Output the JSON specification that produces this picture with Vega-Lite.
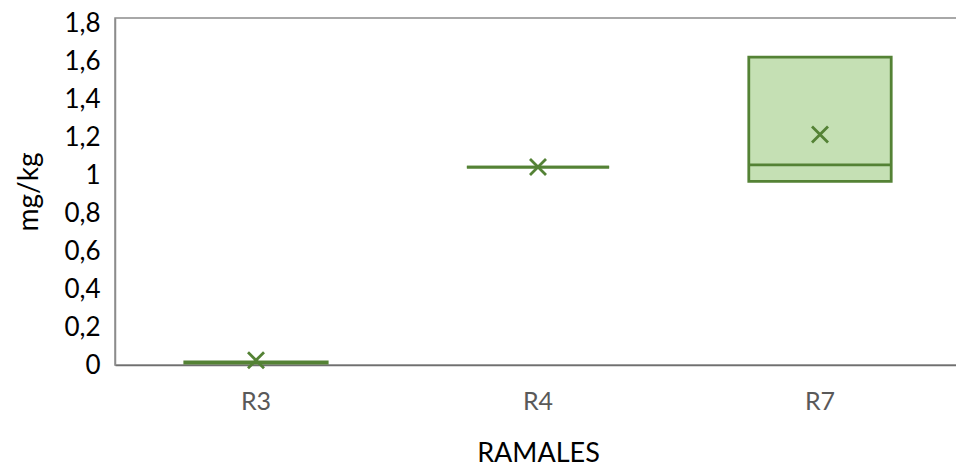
{
  "$schema": "https://vega.github.io/schema/vega-lite/v6.json",
  "autosize": "none",
  "width": 846,
  "height": 347,
  "padding": {"left": 115, "top": 18, "right": 0, "bottom": 103},
  "background": "white",
  "config": {
    "view": {"stroke": "#8c8c8c", "strokeWidth": 1.5},
    "font": "Lato"
  },
  "data": {
    "values": [
      {"ramal": "R3", "q1": 0.01, "q3": 0.017, "median": 0.014, "mean": 0.025},
      {"ramal": "R4", "q1": 1.044, "q3": 1.044, "median": 1.044, "mean": 1.044},
      {"ramal": "R7", "q1": 0.968, "q3": 1.624, "median": 1.055, "mean": 1.216}
    ]
  },
  "encoding": {
    "x": {
      "field": "ramal",
      "type": "nominal",
      "title": "RAMALES",
      "scale": {"paddingInner": 0, "paddingOuter": 0},
      "axis": {
        "labelAngle": 0,
        "labelFontSize": 25,
        "labelColor": "#595959",
        "labelPadding": 24,
        "ticks": false,
        "domainColor": "#6f6f6f",
        "domainWidth": 1.5,
        "titleFontSize": 27,
        "titleFontWeight": "normal",
        "titleColor": "#000000",
        "titlePadding": 26
      }
    }
  },
  "layer": [
    {
      "mark": {"type": "bar", "fill": "#C5E0B4", "stroke": "#548235", "strokeWidth": 2.8, "width": {"band": 0.505}},
      "encoding": {
        "y": {
          "field": "q1",
          "type": "quantitative",
          "title": "mg/kg",
          "scale": {"domain": [0, 1.83], "nice": false, "zero": true},
          "axis": {
            "values": [0, 0.2, 0.4, 0.6, 0.8, 1, 1.2, 1.4, 1.6, 1.8],
            "tickCount": 20,
            "labelExpr": "replace(format(datum.value, '.1~f'), '.', ',')",
            "labelOverlap": false,
            "labelFlush": false,
            "labelFontSize": 26,
            "labelColor": "#000000",
            "labelPadding": 15,
            "ticks": false,
            "grid": false,
            "domainColor": "#8c8c8c",
            "domainWidth": 1.5,
            "titleFontSize": 28,
            "titleFontWeight": "normal",
            "titleColor": "#000000",
            "titlePadding": 20
          }
        },
        "y2": {"field": "q3"}
      }
    },
    {
      "mark": {"type": "tick", "color": "#548235", "thickness": 2.8, "size": 142, "opacity": 1},
      "encoding": {
        "y": {"field": "median", "type": "quantitative"}
      }
    },
    {
      "mark": {"type": "point", "shape": "M-1,-1L1,1M1,-1L-1,1", "size": 256, "stroke": "#548235", "strokeWidth": 2.8, "filled": false, "opacity": 1},
      "encoding": {
        "y": {"field": "mean", "type": "quantitative"}
      }
    }
  ]
}
